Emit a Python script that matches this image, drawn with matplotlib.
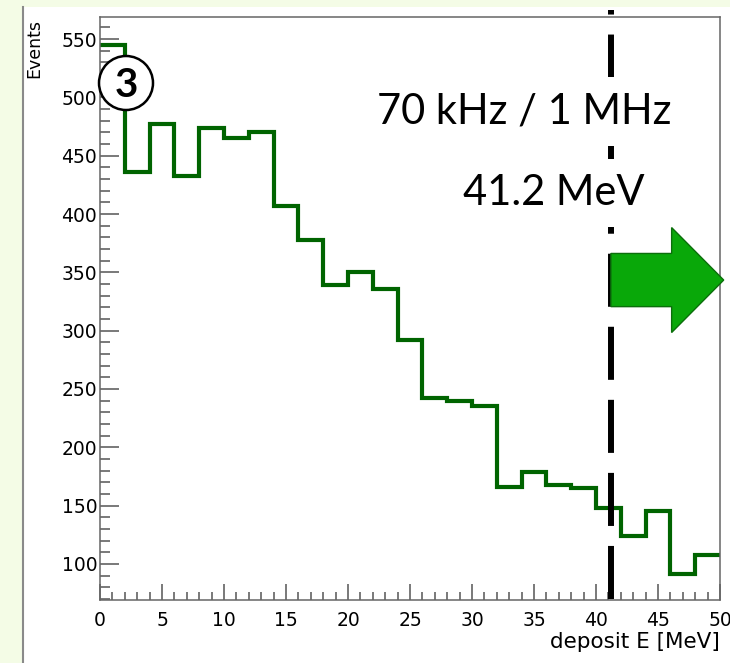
import matplotlib.pyplot as plt
from matplotlib.patches import Circle, FancyArrow, Rectangle
from matplotlib.lines import Line2D
from matplotlib.ticker import MultipleLocator

# energy deposit histogram, 2 MeV bins from 0 to 50 MeV
bin_edges = list(range(0, 52, 2))
counts = [545, 436, 477, 433, 474, 465, 470, 407, 378, 339,
          350, 336, 292, 242, 240, 235, 166, 179, 168, 165,
          148, 124, 145, 91, 108]

threshold = 41.2
rate_text = "70 kHz / 1 MHz"
threshold_text = "41.2 MeV"

fig = plt.figure(figsize=(7.3, 6.63), dpi=100)
fig.patch.set_facecolor("#f4fce6")

# white slide panel with a grey left border
fig.add_artist(Rectangle((23 / 730, 0), 707 / 730, 656 / 663, transform=fig.transFigure,
                         facecolor="white", edgecolor="none", zorder=0))
fig.add_artist(Line2D([23 / 730, 23 / 730], [0, 656 / 663], transform=fig.transFigure,
                      color="#8a8a8a", lw=1.5, zorder=1))

ax = fig.add_axes([100 / 730, 63 / 663, 620 / 730, 583 / 663])
ax.set_facecolor("white")

ax.stairs(counts, bin_edges, baseline=None, color="#006400", lw=3, zorder=2)

ax.set_xlim(0, 50)
ax.set_ylim(69, 569)

ax.xaxis.set_major_locator(MultipleLocator(5))
ax.xaxis.set_minor_locator(MultipleLocator(1))
ax.yaxis.set_major_locator(MultipleLocator(50))
ax.yaxis.set_minor_locator(MultipleLocator(10))

ax.tick_params(which="both", direction="in", top=False, right=False,
               color="#555555", width=1.1, labelsize=13.5)
ax.tick_params(axis="x", which="major", length=11.5, pad=8)
ax.tick_params(axis="x", which="minor", length=5.8)
ax.tick_params(axis="y", which="major", length=13.7, pad=2)
ax.tick_params(axis="y", which="minor", length=7.2)

for side in ax.spines.values():
    side.set_color("#666666")
    side.set_linewidth(1.1)

ax.set_xlabel("deposit E [MeV]", loc="right", fontsize=15.5, labelpad=1)
ax.set_ylabel("Events", loc="top", fontsize=12.5)
ax.yaxis.set_label_coords(-57 / 620, 0.9966)

# threshold cut line
lw = 4.3
ax.plot([threshold, threshold], [70, 575], color="black", lw=lw,
        dashes=(38.2 / lw, 14.4 / lw), dash_capstyle="butt", clip_on=False, zorder=3)

box = dict(facecolor="white", edgecolor="none", pad=11)
ax.text(34.2, 478, rate_text, ha="center", va="baseline", fontsize=30,
        family="Lato", bbox=box, zorder=4)
ax.text(36.57, 407.7, threshold_text, ha="center", va="baseline", fontsize=30,
        family="Lato", bbox=box, zorder=4)

# arrow pointing to the accepted region
ax.add_patch(FancyArrow(threshold, 343.4, 9.1, 0, width=45.6, head_width=90,
                        head_length=4.2, length_includes_head=True,
                        facecolor="#09a809", edgecolor="#0b6e0b", lw=1,
                        clip_on=False, zorder=5))

# circled panel number
fig.add_artist(Circle((1.26, 5.80), 0.27, transform=fig.dpi_scale_trans,
                      facecolor="white", edgecolor="black", lw=1.8, zorder=6))
fig.text(1.26 / 7.3, 5.66 / 6.63, "3", ha="center", va="baseline", fontsize=29,
         fontweight="bold", family="Lato", zorder=7)

fig.savefig("out.png", dpi=100, facecolor=fig.get_facecolor())
